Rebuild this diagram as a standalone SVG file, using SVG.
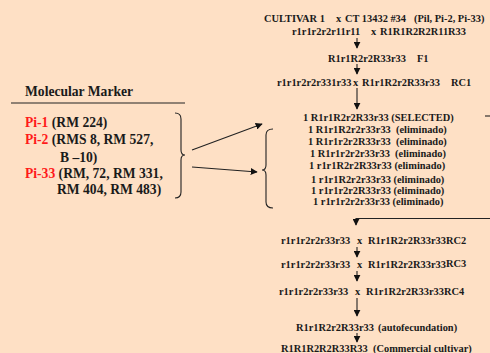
<svg xmlns="http://www.w3.org/2000/svg" width="490" height="353" viewBox="0 0 490 353" xml:space="preserve">
<defs>
<style>
text{font-family:"Liberation Serif","Times New Roman",serif;font-weight:bold;fill:#1a1a1a;white-space:pre}
.s{font-size:10.4px}
.l{font-size:13.6px}
.red{fill:#ff1a1a}
.ln{stroke:#222;stroke-width:1.1;fill:none}
</style>
<marker id="ah" viewBox="0 0 10 10" refX="9" refY="5" markerWidth="7" markerHeight="7" markerUnits="userSpaceOnUse" orient="auto"><path d="M0,0L10,5L0,10z" fill="#111"/></marker>
</defs>
<rect width="490" height="353" fill="#fee0c5"/>
<g id="connectors">
<line class="ln" x1="357" y1="38" x2="357" y2="48" marker-end="url(#ah)"/>
<line class="ln" x1="357" y1="64" x2="357" y2="74" marker-end="url(#ah)"/>
<line class="ln" x1="357" y1="88" x2="357" y2="109" marker-end="url(#ah)"/>
<line class="ln" x1="485" y1="116" x2="490" y2="116"/>
<polyline class="ln" points="490,218.5 356,218.5 356,225" marker-end="url(#ah)"/>
<line class="ln" x1="357" y1="247" x2="357" y2="257" marker-end="url(#ah)"/>
<line class="ln" x1="357" y1="271" x2="357" y2="281" marker-end="url(#ah)"/>
<line class="ln" x1="357" y1="298" x2="357" y2="316" marker-end="url(#ah)"/>
<line class="ln" x1="357" y1="333" x2="357" y2="342" marker-end="url(#ah)"/>
<line class="ln" x1="192" y1="150" x2="262" y2="124" marker-end="url(#ah)"/>
<line class="ln" x1="192" y1="167" x2="257" y2="172" marker-end="url(#ah)"/>
<path class="ln" d="M175,113 Q181,113 181,119 L181,150 Q181,155 185,155 Q181,155 181,160 L181,192 Q181,198 175,198"/>
<path class="ln" d="M273,129 Q266,129 266,135 L266,165 Q266,170 262,170 Q266,170 266,175 L266,202 Q266,208 273,208"/>
</g>
<g id="cross1"><text class="s" y="22"><tspan x="264">CULTIVAR 1</tspan><tspan x="336">x</tspan><tspan x="345">CT 13432 #34</tspan><tspan x="414">(Pil, Pi-2, Pi-33)</tspan></text>
<text class="s" y="35"><tspan x="292">r1r1r2r2r11r11</tspan><tspan x="371">x</tspan><tspan x="380">R1R1R2R2R11R33</tspan></text></g>
<g id="f1"><text class="s" y="62"><tspan x="328">R1r1R2r2R33r33</tspan><tspan x="417">F1</tspan></text></g>
<g id="rc1"><text class="s" y="86"><tspan x="277">r1r1r2r2r331r33</tspan><tspan x="353">x</tspan><tspan x="362">R1r1R2r2R33r33</tspan><tspan x="451">RC1</tspan></text></g>
<g id="progeny">
<text class="s" x="303" y="121">1 R1r1R2r2R33r33 (SELECTED)</text>
<text class="s" x="308" y="133">1 R1r1R2r2r33r33  (eliminado)</text>
<text class="s" x="308" y="145">1 R1r1r2r2R33r33  (eliminado)</text>
<text class="s" x="310" y="157">1 R1r1r2r2r33r33  (eliminado)</text>
<text class="s" x="309" y="169">1 r1r1R2r2R33r33 (eliminado)</text>
<text class="s" x="311" y="183">1 r1r1R2r2r33r33 (eliminado)</text>
<text class="s" x="311" y="194">1 r1r1r2r2R33r33 (eliminado)</text>
<text class="s" x="313" y="205">1 r1r1r2r2r33r33 (eliminado)</text>
</g>
<g id="rc2"><text class="s" y="244"><tspan x="281">r1r1r2r2r33r33</tspan><tspan x="357">x</tspan><tspan x="368">R1r1R2r2R33r33RC2</tspan></text></g>
<g id="rc3"><text class="s" y="268"><tspan x="281">r1r1r2r2r33r33</tspan><tspan x="357">x</tspan><tspan x="368">R1r1R2r2R33r33</tspan><tspan dy="-1.5">RC3</tspan></text></g>
<g id="rc4"><text class="s" y="295"><tspan x="279">r1r1r2r2r33r33</tspan><tspan x="355">x</tspan><tspan x="366">R1r1R2r2R33r33RC4</tspan></text></g>
<g id="auto"><text class="s" y="331"><tspan x="296">R1r1R2r2R33r33</tspan><tspan x="378">(autofecundation)</tspan></text></g>
<g id="commercial"><text class="s" y="352"><tspan x="281">R1R1R2R2R33R33</tspan><tspan x="373">(Commercial cultivar)</tspan></text></g>
<g id="markers">
<text class="l" x="25" y="96">Molecular Marker</text>
<line x1="11" y1="103" x2="185" y2="103" stroke="#222" stroke-width="1"/>
<text class="l" x="25" y="127"><tspan class="red">Pi-1</tspan> (RM 224)</text>
<text class="l" x="25" y="144"><tspan class="red">Pi-2</tspan> (RMS 8, RM 527,</text>
<text class="l" x="60" y="162">B –10)</text>
<text class="l" x="25" y="178"><tspan class="red">Pi-33</tspan> (RM, 72, RM 331,</text>
<text class="l" x="57" y="194">RM 404, RM 483)</text>
</g>
</svg>
